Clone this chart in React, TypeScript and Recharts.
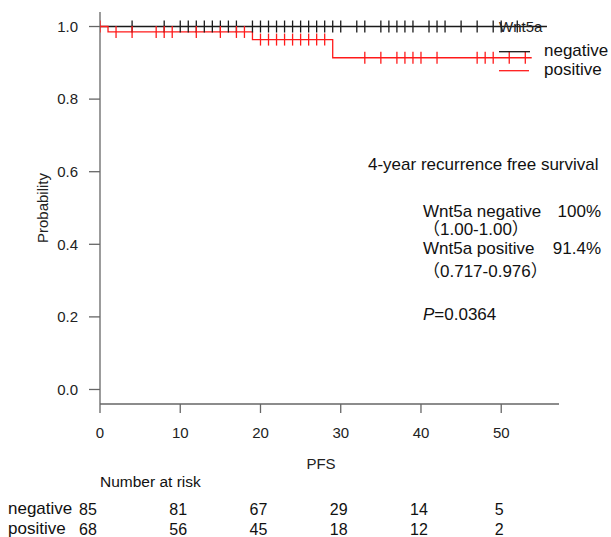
import React from 'react';
import { LineChart, Line, XAxis, YAxis, Legend } from 'recharts';

const FONT = '"Liberation Sans", Arial, "Noto Sans CJK JP", sans-serif';

const xTicks = [0, 10, 20, 30, 40, 50];
const yTicks = [0, 0.2, 0.4, 0.6, 0.8, 1.0];
const riskNegative = [85, 81, 67, 29, 14, 5];
const riskPositive = [68, 56, 45, 18, 12, 2];

const negativeEventTimes: number[] = [];
const negativeEventSurv: number[] = [];
const negativeCensorTimes = [4, 8, 10, 11, 12, 13, 14, 15, 16, 17, 19, 20, 21, 22, 23, 24, 25, 26, 27, 28, 29, 30, 32, 33, 35, 36, 37, 38, 39, 41, 42, 43, 45, 47, 49, 50, 52];
const negativeLastTime = 55.7;

const positiveEventTimes = [1, 19, 29];
const positiveEventSurv = [0.985, 0.964, 0.914];
const positiveCensorTimes = [0, 2, 4, 7, 8, 9, 12, 15, 17, 18, 20, 21, 22, 23, 24, 25, 26, 27, 28, 33, 35, 37, 38, 39, 40, 42, 47, 48, 49, 51, 53];
const positiveLastTime = 53.8;

type Pt = { t: number; s: number; c: boolean };

function buildCurve(evT: number[], evS: number[], cT: number[], last: number): Pt[] {
  const items = [
    ...evT.map((t, i) => ({ t, s: evS[i], e: true })),
    ...cT.map((t) => ({ t, s: NaN, e: false })),
  ].sort((a, b) => a.t - b.t || (a.e ? -1 : 1));
  const pts: Pt[] = [{ t: 0, s: 1, c: false }];
  let cur = 1;
  for (const it of items) {
    if (it.e) cur = it.s;
    if (it.t === 0 && !it.e) {
      pts[0].c = true;
      continue;
    }
    pts.push({ t: it.t, s: cur, c: !it.e });
  }
  if (pts[pts.length - 1].t < last) pts.push({ t: last, s: cur, c: false });
  return pts;
}

const negativeData = buildCurve(negativeEventTimes, negativeEventSurv, negativeCensorTimes, negativeLastTime);
const positiveData = buildCurve(positiveEventTimes, positiveEventSurv, positiveCensorTimes, positiveLastTime);

const NEG_COLOR = '#1a1a1a';
const POS_COLOR = '#ff1a1a';
const AXIS_COLOR = '#666666';

const makeDot = (color: string) => (props: any) => {
  const { cx, cy, payload, index } = props;
  if (!payload || !payload.c || cx == null || cy == null) return <g key={`d-${index}`} />;
  return <line key={`d-${index}`} x1={cx} x2={cx} y1={cy - 6} y2={cy + 6} stroke={color} strokeWidth={1.3} />;
};

// X tick: axis label plus the number-at-risk rows beneath it
const XTickWithRisk = (props: any) => {
  const { x, y, payload, index } = props;
  const dx = index === 0 ? -12 : -2;
  return (
    <g key={`xt-${index}`} style={{ fontFamily: FONT }}>
      <text x={x} y={y + 10.7} textAnchor="middle" fontSize={15} fill="#222">
        {payload.value}
      </text>
      <text x={x + dx} y={y + 88} textAnchor="middle" fontSize={16} fill="#111">
        {riskNegative[index]}
      </text>
      <text x={x + dx} y={y + 108} textAnchor="middle" fontSize={16} fill="#111">
        {riskPositive[index]}
      </text>
    </g>
  );
};

const renderLegend = () => (
  <svg width={121} height={78} style={{ overflow: 'visible', fontFamily: FONT }}>
    <text x={9} y={21.5} fontSize={15} fill="#222">Wnt5a</text>
    <line x1={9} x2={40} y1={41.7} y2={41.7} stroke={NEG_COLOR} strokeWidth={1.3} />
    <text x={54} y={45.5} fontSize={17} fill="#111">negative</text>
    <line x1={9} x2={39} y1={60.7} y2={60.7} stroke={POS_COLOR} strokeWidth={1.3} />
    <text x={54} y={65} fontSize={17} fill="#111">positive</text>
  </svg>
);

export default function App() {
  return (
    <div style={{ position: 'absolute', left: 0, top: 0, width: 611, height: 537, background: '#fff' }}>
      <LineChart width={611} height={537} margin={{ top: 12, right: 52, bottom: 0, left: 0 }}>
        <XAxis
          xAxisId="main"
          type="number"
          dataKey="t"
          domain={[0, 57.2]}
          allowDataOverflow
          ticks={xTicks}
          interval={0}
          height={133}
          tickSize={9}
          tickMargin={14}
          axisLine={{ stroke: AXIS_COLOR, strokeWidth: 1.3 }}
          tickLine={{ stroke: AXIS_COLOR, strokeWidth: 1.3 }}
          tick={<XTickWithRisk />}
        />
        <YAxis
          type="number"
          domain={[-0.04, 1.04]}
          allowDataOverflow
          ticks={yTicks}
          interval={0}
          width={100}
          tickSize={11}
          tickMargin={11}
          tickFormatter={(v: number) => v.toFixed(1)}
          axisLine={{ stroke: AXIS_COLOR, strokeWidth: 1.3 }}
          tickLine={{ stroke: AXIS_COLOR, strokeWidth: 1.3 }}
          tick={{ fill: '#222', fontSize: 15, fontFamily: FONT }}
        />
        <Legend
          layout="horizontal"
          verticalAlign="middle"
          align="center"
          wrapperStyle={{ position: 'absolute', left: 490, top: 10, width: 121, height: 78 }}
          content={renderLegend}
        />
        <Line
          xAxisId="main"
          data={negativeData}
          dataKey="s"
          type="stepAfter"
          stroke={NEG_COLOR}
          strokeWidth={1.3}
          dot={makeDot(NEG_COLOR)}
          activeDot={false}
          isAnimationActive={false}
          name="negative"
        />
        <Line
          xAxisId="main"
          data={positiveData}
          dataKey="s"
          type="stepAfter"
          stroke={POS_COLOR}
          strokeWidth={1.3}
          dot={makeDot(POS_COLOR)}
          activeDot={false}
          isAnimationActive={false}
          name="positive"
        />
      </LineChart>
      <svg
        width={611}
        height={537}
        style={{ position: 'absolute', left: 0, top: 0, pointerEvents: 'none', fontFamily: FONT }}
      >
        <text x={42} y={208} fontSize={15} fill="#222" textAnchor="middle" dominantBaseline="central" transform="rotate(-90 42 208)">
          Probability
        </text>
        <text x={321} y={468.5} fontSize={15} fill="#222" textAnchor="middle">PFS</text>
        <text x={100} y={487} fontSize={15.5} fill="#111">Number at risk</text>
        <text x={8} y={514} fontSize={17} fill="#111">negative</text>
        <text x={8} y={534} fontSize={17} fill="#111">positive</text>

        <text x={368} y={170} fontSize={17} fill="#111">4-year recurrence free survival</text>
        <text x={423} y={217} fontSize={17} fill="#111">Wnt5a negative</text>
        <text x={601} y={217} fontSize={17} fill="#111" textAnchor="end">100%</text>
        <text x={423} y={235} fontSize={17} fill="#111">（1.00-1.00）</text>
        <text x={423} y={254} fontSize={17} fill="#111">Wnt5a positive</text>
        <text x={601} y={254} fontSize={17} fill="#111" textAnchor="end">91.4%</text>
        <text x={423} y={277} fontSize={17} fill="#111">（0.717-0.976）</text>
        <text x={423} y={320} fontSize={17} fill="#111">
          <tspan fontStyle="italic">P</tspan>=0.0364
        </text>
      </svg>
    </div>
  );
}
